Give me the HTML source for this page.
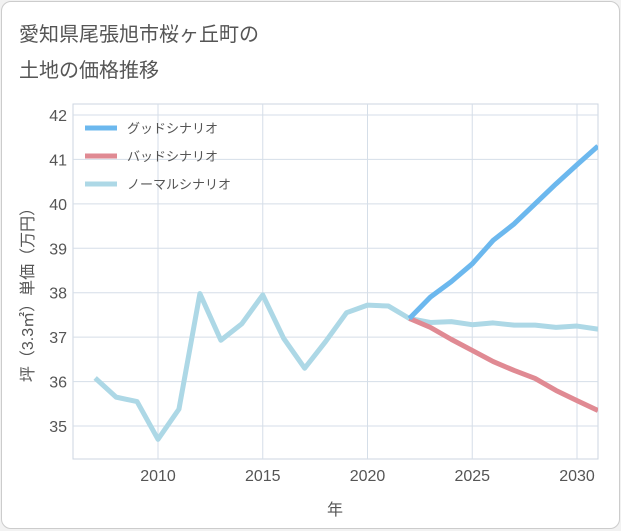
<!DOCTYPE html>
<html><head><meta charset="utf-8"><style>
body{margin:0;background:#f2f2f2;font-family:"Liberation Sans","Noto Sans CJK JP",sans-serif}
#card{position:absolute;left:1px;top:1px;width:617px;height:526px;background:#fff;border:1px solid #ccc;border-radius:10px}
</style></head><body>
<div id="card">
<svg id="c" width="621" height="530" style="position:absolute;left:-1px;top:-1px">
<text x="18" y="40" font-size="20" fill="#555">愛知県尾張旭市桜ヶ丘町の</text>
<text x="18" y="76" font-size="20" fill="#555">土地の価格推移</text>
</svg></div>
<script>
const years=[2007,2008,2009,2010,2011,2012,2013,2014,2015,2016,2017,2018,2019,2020,2021,2022,2023,2024,2025,2026,2027,2028,2029,2030,2031];
const normal=[36.08,35.65,35.55,34.7,35.38,37.98,36.93,37.3,37.95,36.97,36.3,36.9,37.55,37.72,37.7,37.42,37.33,37.35,37.28,37.32,37.27,37.27,37.22,37.25,37.18];
const goodYears=[2022,2023,2024,2025,2026,2027,2028,2029,2030,2031];
const good=[37.42,37.9,38.25,38.65,39.18,39.55,40.0,40.45,40.88,41.3];
const bad=[37.42,37.22,36.95,36.7,36.45,36.25,36.07,35.8,35.57,35.35];
const yTicks=[35,36,37,38,39,40,41,42];
const xTicks=[2010,2015,2020,2025,2030];
const L=72,R=597,T=103,B=458;
const X=v=>157+(v-2010)*(576-157)/20;
const Y=v=>425-(v-35)*(425-114)/7;
const svg=document.getElementById('c');const NS='http://www.w3.org/2000/svg';
function el(t,a,txt){const e=document.createElementNS(NS,t);for(const k in a)e.setAttribute(k,a[k]);if(txt)e.textContent=txt;svg.appendChild(e);return e;}
let bg=el('rect',{x:L,y:T,width:R-L,height:B-T,fill:'none',stroke:'#ccd6e0'});

yTicks.forEach(v=>{let g=el('line',{x1:L,x2:R,y1:Y(v),y2:Y(v),stroke:'#d5dee8'});

let t=el('text',{x:L-6,y:Y(v)+6,'text-anchor':'end','font-size':16,fill:'#555'},String(v));
});
xTicks.forEach(v=>{let g=el('line',{y1:T,y2:B,x1:X(v),x2:X(v),stroke:'#d5dee8'});

let t=el('text',{x:X(v),y:B+22,'text-anchor':'middle','font-size':16,fill:'#555'},String(v));
});
let xt=el('text',{x:334,y:514,'text-anchor':'middle','font-size':16,fill:'#555'},'年');

let yt=el('text',{x:0,y:0,'text-anchor':'middle','font-size':16,fill:'#555',transform:'translate(32,290) rotate(-90)'},'坪（3.3㎡）単価（万円）');

const defs=el('defs',{});
const cp=document.createElementNS(NS,'clipPath');cp.setAttribute('id','clip');defs.appendChild(cp);
const cr=document.createElementNS(NS,'rect');['x','y','width','height'].forEach((k,i)=>cr.setAttribute(k,[L,T,R-L,B-T][i]));cp.appendChild(cr);
function line(xs,vs,color,name){let p=el('polyline',{points:xs.map((x,i)=>X(x)+','+Y(vs[i])).join(' '),fill:'none',stroke:color,'stroke-width':5,'stroke-linejoin':'round','clip-path':'url(#clip)'});
}
line(years,normal,'#add8e6','normal-scenario-line');
line(goodYears,bad,'#e08a93','bad-scenario-line');
line(goodYears,good,'#6cb8ee','good-scenario-line');
[['グッドシナリオ','#6cb8ee'],['バッドシナリオ','#e08a93'],['ノーマルシナリオ','#add8e6']].forEach((d,i)=>{
let y=127+i*28;let l=el('line',{x1:84,x2:116,y1:y,y2:y,stroke:d[1],'stroke-width':5});

let t=el('text',{x:126,y:y+5,'font-size':13,fill:'#555'},d[0]);
});
</script></body></html>
